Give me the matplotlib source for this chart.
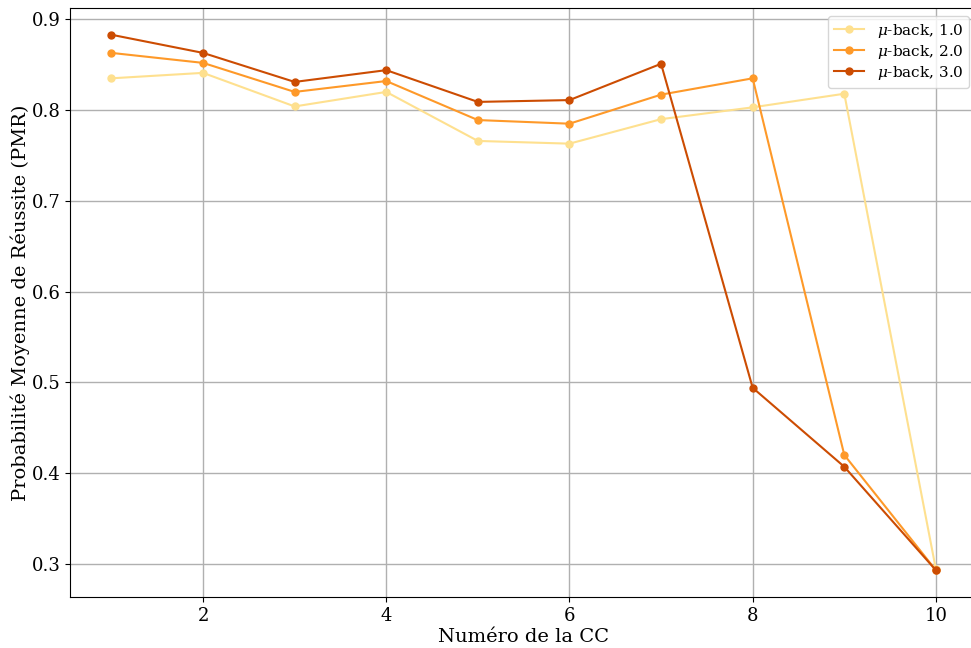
import matplotlib
matplotlib.use('Agg')
import matplotlib.pyplot as plt

plt.rcParams['font.family'] = 'DejaVu Serif'
plt.rcParams['mathtext.fontset'] = 'dejavuserif'

cc = [1, 2, 3, 4, 5, 6, 7, 8, 9, 10]
pmr_1 = [0.835, 0.841, 0.804, 0.820, 0.766, 0.763, 0.790, 0.803, 0.818, 0.294]
pmr_2 = [0.863, 0.852, 0.820, 0.832, 0.789, 0.785, 0.817, 0.835, 0.420, 0.293]
pmr_3 = [0.883, 0.863, 0.831, 0.844, 0.809, 0.811, 0.851, 0.494, 0.407, 0.293]
labels = [r'$\mu$-back, 1.0', r'$\mu$-back, 2.0', r'$\mu$-back, 3.0']
colors = ['#fee08f', '#fe9929', '#cc4c02']

fig = plt.figure(figsize=(9.71, 6.48), dpi=100)
ax = fig.add_axes([0.0723, 0.0787, 0.934, 0.909])

for ys, lab, c in zip([pmr_1, pmr_2, pmr_3], labels, colors):
    ax.plot(cc, ys, marker='o', markersize=5, linewidth=1.5, color=c, label=lab)

ax.set_xlim(0.55, 10.45)
ax.set_ylim(0.2635, 0.9125)
ax.set_xticks([2, 4, 6, 8, 10])
ax.set_yticks([0.3, 0.4, 0.5, 0.6, 0.7, 0.8, 0.9])
ax.tick_params(labelsize=13)
ax.grid(True, color='#b0b0b0', linewidth=1)
ax.set_xlabel('Numéro de la CC', fontsize=14, labelpad=2)
ax.set_ylabel('Probabilité Moyenne de Réussite (PMR)', fontsize=14, labelpad=1)
ax.legend(loc='upper right', fontsize=11, labelspacing=0.2)

fig.savefig('out.png', dpi=100)
